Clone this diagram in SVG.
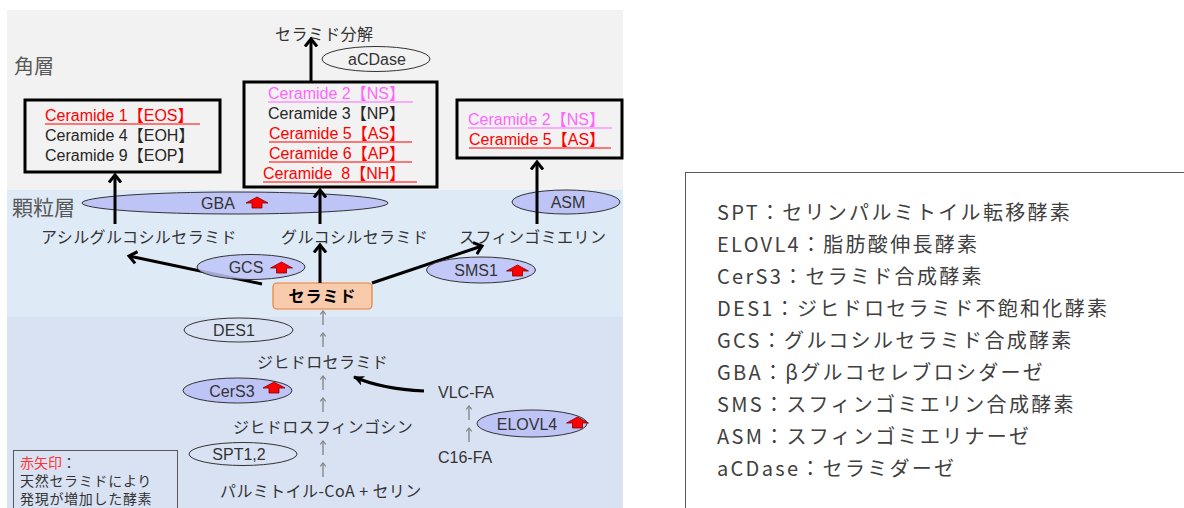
<svg xmlns="http://www.w3.org/2000/svg" width="1184" height="508" viewBox="0 0 1184 508">
<style>
.jp{font-family:"Noto Sans CJK JP",sans-serif;fill:#333;}
.lat{font-family:"Liberation Sans","Noto Sans CJK JP",sans-serif;}
.lbl{font-size:16px;letter-spacing:0.4px;}
.cer{font-family:"Liberation Sans","Noto Sans CJK JP",sans-serif;font-size:16px;}
.blk{fill:#262626;}
.red{fill:#ff0000;}
.pink{fill:#ff66ff;}
.ul{stroke-width:1.2;}
.box{fill:#f2f2f2;stroke:#000;stroke-width:3;}
.enz{fill:#bfc4f7;stroke:#333;stroke-width:1;}
.enzo{fill:none;stroke:#333;stroke-width:1;}
.etxt{font-family:"Liberation Sans","Noto Sans CJK JP",sans-serif;font-size:16px;fill:#333;text-anchor:middle;}
.thick{stroke:#000;stroke-width:3;fill:none;marker-end:url(#open);}
.thin{stroke:#808080;stroke-width:1.3;fill:none;marker-end:url(#small);}
.leg{font-family:"Noto Sans CJK JP",sans-serif;font-size:20px;fill:#404040;letter-spacing:2.3px;}
</style>
<defs>
<marker id="open" markerUnits="userSpaceOnUse" markerWidth="16" markerHeight="16" viewBox="-8 -8 16 16" refX="0" refY="0" orient="auto">
<path d="M-7.5,-6 L0,0 L-7.5,6" fill="none" stroke="#000" stroke-width="3"/>
</marker>
<marker id="solid" markerUnits="userSpaceOnUse" markerWidth="16" markerHeight="16" viewBox="-10 -8 16 16" refX="0" refY="0" orient="auto">
<path d="M-10,-5 L1,0 L-10,5 L-7,0 Z" fill="#000"/>
</marker>
<marker id="small" markerUnits="userSpaceOnUse" markerWidth="10" markerHeight="10" viewBox="-5 -5 10 10" refX="0" refY="0" orient="auto">
<path d="M-3.5,-2.8 L0,0 L-3.5,2.8" fill="none" stroke="#808080" stroke-width="1.2"/>
</marker>
<path id="redup" d="M0,0 L11,6 L5,6 L5,11 L-5,11 L-5,6 L-11,6 Z" fill="#ff0000" stroke="#800000" stroke-width="0.8"/>
</defs>

<!-- background bands -->
<g id="bands">
<rect x="7" y="10" width="616" height="180" fill="#f2f2f2"/>
<rect x="7" y="190" width="616" height="127" fill="#deeaf6"/>
<rect x="7" y="317" width="616" height="191" fill="#d9e2f3"/>
<text x="14" y="74" class="jp" style="font-size:20px;fill:#595959">角層</text>
<text x="12" y="215" class="jp" style="font-size:21px;fill:#595959">顆粒層</text>
</g>

<!-- enzymes behind connectors -->
<g id="gba">
<ellipse cx="235" cy="203" rx="153" ry="11" class="enz"/>
<text x="218" y="209" class="etxt">GBA</text>
<use href="#redup" x="257" y="197"/>
</g>
<g id="asm">
<ellipse cx="566" cy="202" rx="54" ry="12" class="enz"/>
<text x="568" y="208" class="etxt">ASM</text>
</g>

<!-- stratum corneum boxes -->
<g id="box1">
<rect x="25" y="100" width="195" height="72" class="box"/>
<text x="45" y="121" class="cer red">Ceramide 1【EOS】</text>
<line x1="45" y1="124" x2="200" y2="124" stroke="#ff0000" class="ul"/>
<text x="45" y="141" class="cer blk">Ceramide 4【EOH】</text>
<text x="45" y="161" class="cer blk">Ceramide 9【EOP】</text>
</g>
<g id="box2">
<rect x="244" y="82" width="193" height="105" class="box"/>
<text x="268" y="99" class="cer pink">Ceramide 2【NS】</text>
<line x1="268" y1="102" x2="413" y2="102" stroke="#ff66ff" class="ul"/>
<text x="268" y="119" class="cer blk">Ceramide 3【NP】</text>
<text x="269" y="139" class="cer red">Ceramide 5【AS】</text>
<line x1="269" y1="142" x2="412" y2="142" stroke="#ff0000" class="ul"/>
<text x="269" y="159" class="cer red">Ceramide 6【AP】</text>
<line x1="269" y1="162" x2="412" y2="162" stroke="#ff0000" class="ul"/>
<text x="263" y="179" class="cer red" xml:space="preserve">Ceramide  8【NH】</text>
<line x1="263" y1="182" x2="417" y2="182" stroke="#ff0000" class="ul"/>
</g>
<g id="box3">
<rect x="457" y="100" width="165" height="58" class="box"/>
<text x="468" y="125" class="cer pink">Ceramide 2【NS】</text>
<line x1="468" y1="128" x2="612" y2="128" stroke="#ff66ff" class="ul"/>
<text x="469" y="145" class="cer red">Ceramide 5【AS】</text>
<line x1="469" y1="148" x2="611" y2="148" stroke="#ff0000" class="ul"/>
</g>

<g id="degradation">
<text x="275" y="40" class="jp lbl">セラミド分解</text>
</g>
<g id="acdase">
<ellipse cx="376" cy="59" rx="54" ry="12.5" class="enzo"/>
<text x="377" y="65" class="etxt">aCDase</text>
</g>

<!-- labels -->
<g id="acylglucosylceramide"><text x="41" y="243" class="jp lbl">アシルグルコシルセラミド</text></g>
<g id="glucosylceramide"><text x="281" y="243" class="jp lbl">グルコシルセラミド</text></g>
<g id="sphingomyelin"><text x="459" y="243" class="jp lbl">スフィンゴミエリン</text></g>
<g id="ceramide">
<rect x="273" y="283" width="99" height="26" rx="4" fill="#f8cbad" stroke="#ed7d31" stroke-width="1.2"/>
<text x="322.5" y="302" class="jp" style="font-size:16px;font-weight:bold;fill:#000;text-anchor:middle;letter-spacing:1px">セラミド</text>
</g>
<g id="dihydroceramide"><text x="257" y="368" class="jp lbl">ジヒドロセラミド</text></g>
<g id="dihydrosphingosine"><text x="233" y="433" class="jp lbl">ジヒドロスフィンゴシン</text></g>
<g id="palmitoyl"><text x="220" y="497" class="jp lbl">パルミトイル-CoA + セリン</text></g>
<g id="vlcfa"><text x="438" y="398" class="lat" style="font-size:16px;fill:#333">VLC-FA</text></g>
<g id="c16fa"><text x="438" y="463" class="lat" style="font-size:16px;fill:#333">C16-FA</text></g>

<!-- connectors -->
<g id="connectors">
<line x1="311" y1="82" x2="311" y2="39" class="thick"/>
<line x1="115" y1="224" x2="115" y2="175" class="thick"/>
<line x1="320" y1="224" x2="320" y2="190" class="thick"/>
<line x1="537" y1="224" x2="537" y2="162" class="thick"/>
<line x1="320" y1="283" x2="320" y2="245" class="thick"/>
<line x1="262" y1="284" x2="129" y2="256" class="thick"/>
<line x1="372" y1="283" x2="482" y2="246" class="thick"/>
<path d="M424,391 Q382,389 354,377" stroke="#000" stroke-width="3" fill="none" marker-end="url(#solid)"/>
<line x1="323" y1="325" x2="323" y2="311" class="thin"/>
<line x1="323" y1="347" x2="323" y2="333" class="thin"/>
<line x1="323" y1="390" x2="323" y2="376" class="thin"/>
<line x1="323" y1="412" x2="323" y2="398" class="thin"/>
<line x1="323" y1="455" x2="323" y2="441" class="thin"/>
<line x1="323" y1="477" x2="323" y2="463" class="thin"/>
<line x1="469" y1="420" x2="469" y2="406" class="thin"/>
<line x1="469" y1="442" x2="469" y2="428" class="thin"/>
</g>

<!-- enzymes over connectors -->
<g id="gcs">
<ellipse cx="251" cy="267" rx="54" ry="12.5" class="enz" fill-opacity="0.85"/>
<text x="246" y="273" class="etxt">GCS</text>
<use href="#redup" x="281.5" y="262"/>
</g>
<g id="sms1">
<ellipse cx="481" cy="270" rx="54.5" ry="13" class="enz" fill-opacity="0.9"/>
<text x="476" y="276" class="etxt">SMS1</text>
<use href="#redup" x="517.5" y="265"/>
</g>
<g id="des1">
<ellipse cx="238.5" cy="330" rx="54.5" ry="12" class="enzo"/>
<text x="234" y="336" class="etxt">DES1</text>
</g>
<g id="cers3">
<ellipse cx="237.5" cy="390.5" rx="54.5" ry="12.5" class="enz"/>
<text x="232" y="397" class="etxt">CerS3</text>
<use href="#redup" x="274" y="382"/>
</g>
<g id="spt12">
<ellipse cx="243" cy="454" rx="54" ry="11.5" class="enzo"/>
<text x="239" y="460" class="etxt">SPT1,2</text>
</g>
<g id="elovl4">
<ellipse cx="532" cy="423.5" rx="55" ry="13.5" class="enz"/>
<text x="527" y="430" class="etxt">ELOVL4</text>
<use href="#redup" x="577.5" y="417"/>
</g>

<!-- left legend -->
<g id="redlegend">
<rect x="13.5" y="450.5" width="164" height="70" fill="none" stroke="#595959" stroke-width="1"/>
<text x="20" y="468" class="jp" style="font-size:14px"><tspan fill="#ff3333">赤矢印</tspan>：</text>
<text x="20" y="486" class="jp" style="font-size:14px;letter-spacing:0.7px">天然セラミドにより</text>
<text x="20" y="504" class="jp" style="font-size:14px;letter-spacing:0.7px">発現が増加した酵素</text>
</g>

<!-- right legend -->
<g id="abbrevlegend">
<rect x="685.5" y="172.5" width="600" height="400" fill="#fff" stroke="#595959" stroke-width="1"/>
<text x="717" y="220" class="leg">SPT：セリンパルミトイル転移酵素</text>
<text x="717" y="252" class="leg">ELOVL4：脂肪酸伸長酵素</text>
<text x="717" y="284" class="leg">CerS3：セラミド合成酵素</text>
<text x="717" y="316" class="leg">DES1：ジヒドロセラミド不飽和化酵素</text>
<text x="717" y="348" class="leg">GCS：グルコシルセラミド合成酵素</text>
<text x="717" y="380" class="leg">GBA：βグルコセレブロシダーゼ</text>
<text x="717" y="412" class="leg">SMS：スフィンゴミエリン合成酵素</text>
<text x="717" y="444" class="leg">ASM：スフィンゴミエリナーゼ</text>
<text x="717" y="476" class="leg">aCDase：セラミダーゼ</text>
</g>
</svg>
